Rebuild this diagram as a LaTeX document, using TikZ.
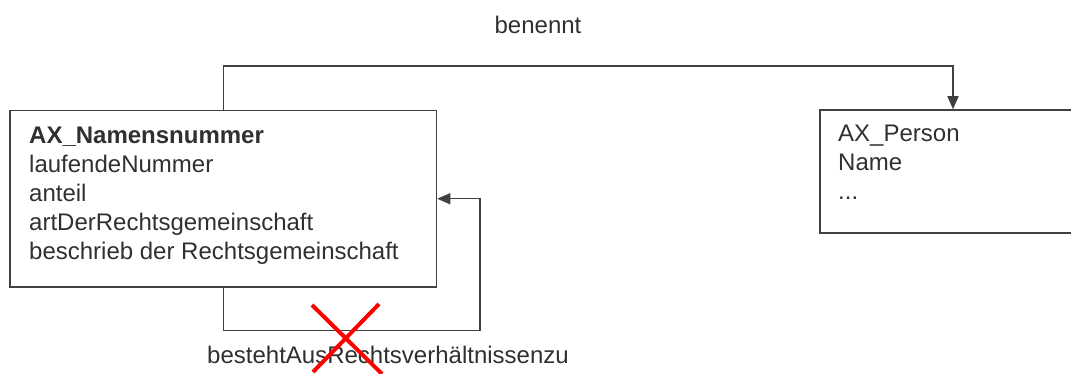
\documentclass[tikz,border=0pt]{standalone}
\usepackage{fontspec}
\setmainfont{Liberation Sans}
\usetikzlibrary{arrows.meta}
\definecolor{linegray}{HTML}{404040}
\definecolor{txtgray}{HTML}{303030}
\begin{document}
\begin{tikzpicture}[x=1pt,y=-1pt,
  box/.style={draw=linegray,line width=1.5pt,inner sep=0pt},
  conn/.style={draw=linegray,line width=1.5pt},
  arr/.style={conn,-{Triangle[length=13pt,width=11pt]}},
  txt/.style={text=txtgray,font=\fontsize{24}{29}\selectfont,align=left,inner sep=0pt},
  lbl/.style={text=txtgray,font=\fontsize{24}{29}\selectfont,inner sep=0pt},
  cross/.style={draw=red,line width=4pt}]
\path[use as bounding box,clip] (0,0) rectangle (1071,374);
\node[box,minimum width=426.5pt,minimum height=176.5pt] (nn) at (223.25,198.75) {};
\node[box,minimum width=266pt,minimum height=123pt] (ps) at (953,171.5) {};
\node[txt,anchor=base west] (nnt) at (29,259) {\textbf{AX\_Namensnummer}\\laufendeNummer\\anteil\\artDerRechtsgemeinschaft\\beschrieb der Rechtsgemeinschaft};
\node[txt,anchor=base west] (pst) at (838,200) {AX\_Person\\Name\\...};
\coordinate (top) at (223.25,66);
\coordinate (lp) at (480,330.5);
\draw[arr] (nn.north) -- (top) -| (ps.north);
\draw[arr] (nn.south) |- (lp) |- (nn.east);
\node[lbl] (ben) at (538,25) {benennt};
\node[lbl] (bes) at (388,355) {bestehtAusRechtsverhältnissenzu};
\draw[cross] (312,305) -- (382,374);
\draw[cross] (379,304) -- (313,372);
\end{tikzpicture}
\end{document}
